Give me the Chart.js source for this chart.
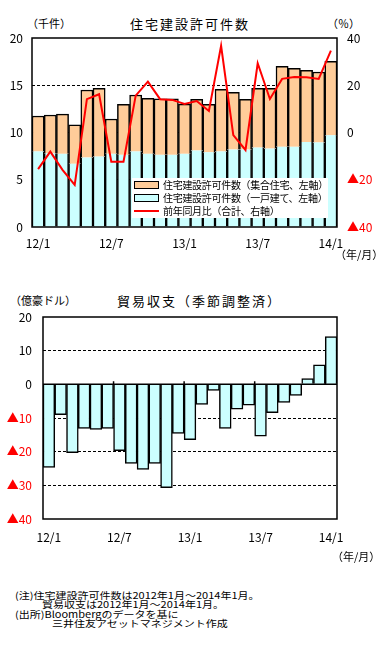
<!DOCTYPE html>
<html>
<head>
<meta charset="utf-8">
<script src="https://cdn.jsdelivr.net/npm/chart.js@4.4.1/dist/chart.umd.min.js"></script>
<style>
body { margin: 0; background: #fff; font-family: "Noto Sans CJK JP", sans-serif; }
#wrap { position: relative; width: 387px; height: 649px; overflow: hidden; }
.t { position: absolute; white-space: nowrap; color: #000; line-height: 1; }
.title { font-size: 13px; letter-spacing: 2px; }
.unit { font-size: 11px; }
.note { font-size: 11px; transform: scaleY(0.85); transform-origin: left center; }
canvas { position: absolute; left: 0; }
#legend { position: absolute; left: 132px; top: 178px; width: 196px; height: 40px; background: #fff; }
#legend .row { height: 13px; display: flex; align-items: center; font-size: 10px; letter-spacing: -0.3px; }
#legend .mk { width: 23px; height: 6px; margin: 0 4px 0 2px; border: 1px solid #000; }
#legend .ln { width: 25px; height: 2px; margin: 0 4px 0 2px; }
</style>
</head>
<body>
<div id="wrap">
  <div class="t unit" style="left:27px;top:18px">（千件）</div>
  <div class="t title" style="left:130px;top:17px">住宅建設許可件数</div>
  <div class="t unit" style="left:327px;top:18px">（％）</div>
  <canvas id="permits" width="387" height="270" style="top:0"></canvas>
  <div id="legend"></div>
  <div class="t unit" style="left:335px;top:249px">（年/月）</div>

  <div class="t unit" style="left:10px;top:295px">（億豪ドル）</div>
  <div class="t title" style="left:117px;top:294px">貿易収支（季節調整済）</div>
  <canvas id="trade" width="387" height="280" style="top:290px"></canvas>
  <div class="t unit" style="left:332px;top:551px">（年/月）</div>

  <div class="t note" style="left:15px;top:590px">(注)住宅建設許可件数は2012年1月～2014年1月。</div>
  <div class="t note" style="left:42px;top:599px">貿易収支は2012年1月～2014年1月。</div>
  <div class="t note" style="left:15px;top:609px">(出所)Bloombergのデータを基に</div>
  <div class="t note" style="left:52px;top:618px">三井住友アセットマネジメント作成</div>
</div>
<script>
// 2012/1 - 2014/1
const months = ['12/1','12/2','12/3','12/4','12/5','12/6','12/7','12/8','12/9','12/10','12/11','12/12',
                '13/1','13/2','13/3','13/4','13/5','13/6','13/7','13/8','13/9','13/10','13/11','13/12','14/1'];
// 千件
const multiFamily = [3.75,4.05,4.2,4.1,7.15,7.23,3.68,5.33,5.97,5.87,5.9,5.9,
                     5.25,5.4,5.08,6.57,6.05,5.3,6.28,6.38,8.5,8.3,7.58,7.45,7.83];
const singleFamily = [8.0,7.8,7.75,6.7,7.35,7.45,7.75,7.65,8.0,7.75,7.65,7.65,
                      7.75,8.1,7.9,8.0,8.2,8.2,8.4,8.3,8.5,8.5,9.0,8.95,9.7];
// %
const permitsYoY = [-15.5,-8.1,-15.8,-22.2,14.1,16.2,-12.4,-12.4,15.6,21.5,14.1,13.8,
                    12.1,13.3,9.1,36.7,-1.1,-7.4,29.3,14.2,22.7,23.5,23.4,22.7,34.7];
// 億豪ドル
const tradeBalance = [-24.7,-9.0,-20.3,-13.1,-13.4,-13.1,-19.7,-23.5,-25.3,-23.5,-30.7,-14.6,
                      -16.4,-6.0,-1.8,-13.1,-7.4,-6.2,-15.4,-8.4,-5.4,-3.3,1.7,5.8,14.2];
const shownMonths = ['12/1','12/7','13/1','13/7','14/1'];

Chart.defaults.font.family = '"Noto Sans CJK JP", sans-serif';
Chart.defaults.font.size = 12;
Chart.defaults.color = '#000';

const tri = v => v < 0 ? '▲' + Math.abs(v) : String(v);
const triColor = c => c.tick && c.tick.value < 0 ? '#ff0000' : '#000';
const monthTick = (v, i) => shownMonths.includes(months[i]) ? months[i] : '';

// box round the plot area, plus zero line with small ticks for the trade chart
const frame = {
    id: 'frame',
    afterDatasetsDraw(chart, args, opts) {
        const { ctx, chartArea: a } = chart;
        ctx.save();
        ctx.strokeStyle = '#000';
        ctx.lineWidth = 1.5;
        if (opts.zero) {
            const y0 = chart.scales.y.getPixelForValue(0);
            const xs = chart.scales.x;
            const half = (xs.getPixelForValue(1) - xs.getPixelForValue(0)) / 2;
            ctx.beginPath();
            ctx.moveTo(a.left, y0);
            ctx.lineTo(a.right, y0);
            months.forEach((m, i) => {
                if (i > 0 && shownMonths.includes(m)) {
                    const x = xs.getPixelForValue(i) - half;
                    ctx.moveTo(x, y0);
                    ctx.lineTo(x, y0 - 3);
                }
            });
            ctx.stroke();
        }
        ctx.strokeRect(a.left, a.top, a.width, a.height);
        ctx.restore();
    }
};

const permitsChart = new Chart(document.getElementById('permits'), {
    type: 'bar',
    plugins: [frame],
    data: {
        labels: months,
        datasets: [
            {
                type: 'line', label: '前年同月比（合計、右軸）', data: permitsYoY, yAxisID: 'yR',
                borderColor: '#ff0000', borderWidth: 2, pointRadius: 0, tension: 0, order: 0
            },
            {
                label: '住宅建設許可件数（一戸建て、左軸）', data: singleFamily, yAxisID: 'y', order: 1,
                backgroundColor: '#ccffff', borderColor: '#000',
                borderWidth: { left: 1.5, right: 1.5, top: 0, bottom: 0 }
            },
            {
                label: '住宅建設許可件数（集合住宅、左軸）', data: multiFamily, yAxisID: 'y', order: 1,
                backgroundColor: '#ffcc99', borderColor: '#000',
                borderWidth: { left: 1.5, right: 1.5, top: 1.5, bottom: 0 }
            }
        ]
    },
    options: {
        responsive: false,
        animation: false,
        layout: { padding: { top: 38 } },
        datasets: { bar: { barPercentage: 1, categoryPercentage: 1 } },
        plugins: { legend: { display: false }, tooltip: { enabled: false }, frame: {} },
        scales: {
            x: {
                stacked: true,
                grid: { display: false, drawTicks: false },
                border: { display: false },
                ticks: { autoSkip: false, maxRotation: 0, padding: 9, callback: monthTick },
                afterFit: s => { s.height = 43; }
            },
            y: {
                stacked: true, min: 0, max: 20,
                ticks: { stepSize: 5, padding: 9 },
                grid: { drawTicks: false, color: c => [5, 10, 15].includes(c.tick.value) ? '#000' : 'transparent' },
                border: { display: false, dash: [3, 2] },
                afterFit: s => { s.width = 32; }
            },
            yR: {
                position: 'right', min: -40, max: 40,
                ticks: { stepSize: 20, padding: 10, callback: tri, color: triColor },
                grid: { drawOnChartArea: false, drawTicks: false },
                border: { display: false },
                afterFit: s => { s.width = 50; }
            }
        }
    }
});

// legend drawn inside the plot, same order as the reference
const legend = document.getElementById('legend');
[2, 1, 0].forEach(i => {
    const ds = permitsChart.data.datasets[i];
    const row = document.createElement('div');
    row.className = 'row';
    const mk = document.createElement('span');
    if (ds.type === 'line') {
        mk.className = 'ln';
        mk.style.background = ds.borderColor;
    } else {
        mk.className = 'mk';
        mk.style.background = ds.backgroundColor;
    }
    row.appendChild(mk);
    row.appendChild(document.createTextNode(ds.label));
    legend.appendChild(row);
});

new Chart(document.getElementById('trade'), {
    type: 'bar',
    plugins: [frame],
    data: {
        labels: months,
        datasets: [{
            label: '貿易収支', data: tradeBalance,
            backgroundColor: '#ccffff', borderColor: '#000', borderWidth: 1.5,
            barPercentage: 1, categoryPercentage: 1
        }]
    },
    options: {
        responsive: false,
        animation: false,
        layout: { padding: { top: 27, right: 50 } },
        plugins: { legend: { display: false }, tooltip: { enabled: false }, frame: { zero: true } },
        scales: {
            x: {
                grid: { display: false, drawTicks: false },
                border: { display: false },
                ticks: { autoSkip: false, maxRotation: 0, padding: 11, callback: monthTick },
                afterFit: s => { s.height = 51; }
            },
            y: {
                min: -40, max: 20,
                ticks: { stepSize: 10, padding: 11, callback: tri, color: triColor },
                grid: { drawTicks: false, color: c => [10, -10, -20, -30].includes(c.tick.value) ? '#000' : 'transparent' },
                border: { display: false, dash: [3, 2] },
                afterFit: s => { s.width = 43; }
            }
        }
    }
});
</script>
</body>
</html>
